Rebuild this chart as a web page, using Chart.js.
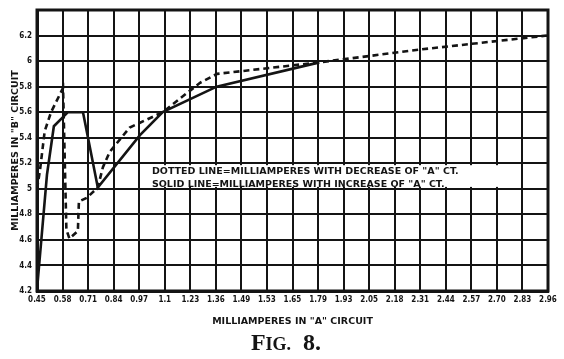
<!DOCTYPE html>
<html>
<head>
<meta charset="utf-8">
<script src="https://cdn.jsdelivr.net/npm/chart.js@4.4.1/dist/chart.umd.min.js"></script>
<style>
  html, body { margin: 0; padding: 0; background: #fff; }
  #wrap { width: 564px; height: 359px; }
</style>
</head>
<body>
<div id="wrap"><canvas id="myChart" width="564" height="359"></canvas></div>
<script>
// x is counted in grid columns: 0 is the "0.45" line, 20 is the "2.96" line
const xTickLabels = ['0.45','0.58','0.71','0.84','0.97','1.1','1.23','1.36','1.49','1.53','1.65','1.79','1.93','2.05','2.18','2.31','2.44','2.57','2.70','2.83','2.96'];
const yTickValues = [4.2, 4.4, 4.6, 4.8, 5.0, 5.2, 5.4, 5.6, 5.8, 6.0, 6.2, 6.4];
const yTickLabels = ['4.2','4.4','4.6','4.8','5','5.2','5.4','5.6','5.8','6','6.2',''];

// solid line - increase of "A" current
const solidX = [0, 0.39, 0.66, 1.21, 1.8, 2.38, 4.03, 4.92, 7.03, 11.05];
const solidY = [4.21, 5.11, 5.49, 5.6, 5.6, 5.01, 5.42, 5.6, 5.8, 5.99];

// dotted line - decrease of "A" current
const dottedX = [0, 0.12, 0.3, 0.55, 1.02, 1.15, 1.27, 1.6, 1.64, 1.95, 2.38, 2.58, 2.85, 3.63, 4.92, 6.38, 7.05, 7.95, 11.05, 14.97, 19.96];
const dottedY = [5.0, 5.15, 5.45, 5.6, 5.79, 4.68, 4.61, 4.67, 4.9, 4.93, 5.01, 5.17, 5.29, 5.48, 5.6, 5.83, 5.9, 5.92, 5.99, 6.09, 6.2];

const noteLines = [
  'DOTTED LINE=MILLIAMPERES WITH DECREASE OF "A" CT.',
  'SOLID LINE=MILLIAMPERES WITH INCREASE OF "A" CT.'
];

const toPoints = (xs, ys) => xs.map((x, i) => ({ x: x, y: ys[i] }));

const ink = '#141414';

const paperBits = {
  id: 'paperBits',
  afterDraw(chart) {
    const ctx = chart.ctx;
    const a = chart.chartArea;
    const xs = chart.scales.x;
    const ys = chart.scales.y;
    ctx.save();

    // heavy frame
    ctx.strokeStyle = ink;
    ctx.lineWidth = 3;
    ctx.strokeRect(a.left, a.top, a.right - a.left, a.bottom - a.top);

    // note box over the grid
    const bx0 = xs.getPixelForValue(4.42);
    const bx1 = xs.getPixelForValue(18.55);
    const by0 = ys.getPixelForValue(5.185);
    const by1 = ys.getPixelForValue(5.015);
    ctx.fillStyle = '#fff';
    ctx.fillRect(bx0, by0, bx1 - bx0, by1 - by0);
    ctx.fillStyle = ink;
    ctx.font = 'bold 9.5px "DejaVu Sans"';
    ctx.textBaseline = 'middle';
    ctx.textAlign = 'left';
    ctx.fillText(noteLines[0], bx0 + 2, ys.getPixelForValue(5.135), 356);
    ctx.fillText(noteLines[1], bx0 + 2, ys.getPixelForValue(5.03), 345);

    // figure caption with small caps
    const parts = [
      { t: 'F', size: 24 },
      { t: 'IG.', size: 18 },
      { t: '  8.', size: 24 }
    ];
    let total = 0;
    parts.forEach(p => {
      ctx.font = 'bold ' + p.size + 'px "Liberation Serif"';
      p.w = ctx.measureText(p.t).width;
      total += p.w;
    });
    let cx = 286 - total / 2;
    ctx.textBaseline = 'alphabetic';
    parts.forEach(p => {
      ctx.font = 'bold ' + p.size + 'px "Liberation Serif"';
      ctx.fillText(p.t, cx, 350);
      cx += p.w;
    });
    ctx.restore();
  }
};

const ctx = document.getElementById('myChart');
new Chart(ctx, {
  type: 'line',
  data: {
    datasets: [
      {
        label: 'increase',
        data: toPoints(solidX, solidY),
        borderColor: ink,
        borderWidth: 2.6,
        pointRadius: 0,
        tension: 0,
        fill: false
      },
      {
        label: 'decrease',
        data: toPoints(dottedX, dottedY),
        borderColor: ink,
        borderWidth: 2.6,
        borderDash: [6, 4],
        pointRadius: 0,
        tension: 0,
        fill: false
      }
    ]
  },
  options: {
    responsive: false,
    animation: false,
    layout: { padding: { left: 0, right: 16, top: 10, bottom: 28 } },
    plugins: {
      legend: { display: false },
      tooltip: { enabled: false }
    },
    scales: {
      x: {
        type: 'linear',
        min: 0,
        max: 20,
        afterBuildTicks: (scale) => {
          scale.ticks = xTickLabels.map((l, i) => ({ value: i }));
        },
        afterFit: (scale) => {
          scale.height = 40;
          scale.paddingLeft = 0;
          scale.paddingRight = 0;
        },
        grid: { color: ink, lineWidth: 2, drawTicks: false },
        border: { color: ink, width: 3 },
        ticks: {
          color: ink,
          padding: 4,
          maxRotation: 0,
          autoSkip: false,
          font: { family: '"DejaVu Sans Condensed", "DejaVu Sans"', weight: 'bold', size: 8 },
          callback: (v, i) => xTickLabels[i]
        },
        title: {
          display: true,
          text: 'MILLIAMPERES IN "A" CIRCUIT',
          color: ink,
          padding: { top: 0, bottom: 4 },
          font: { family: '"DejaVu Sans"', weight: 'bold', size: 9.5 }
        }
      },
      y: {
        type: 'linear',
        min: 4.2,
        max: 6.4,
        afterBuildTicks: (scale) => {
          scale.ticks = yTickValues.map(v => ({ value: v }));
        },
        afterFit: (scale) => {
          scale.width = 37;
          scale.paddingTop = 0;
          scale.paddingBottom = 0;
        },
        grid: { color: ink, lineWidth: 2, drawTicks: false },
        border: { color: ink, width: 3 },
        ticks: {
          color: ink,
          padding: 5,
          font: { family: '"DejaVu Sans Condensed", "DejaVu Sans"', weight: 'bold', size: 8 },
          callback: (v, i) => yTickLabels[i]
        },
        title: {
          display: true,
          text: 'MILLIAMPERES IN "B" CIRCUIT',
          color: ink,
          padding: { top: 10, bottom: 0 },
          font: { family: '"DejaVu Sans"', weight: 'bold', size: 9.5 }
        }
      }
    }
  },
  plugins: [paperBits]
});
</script>
</body>
</html>
